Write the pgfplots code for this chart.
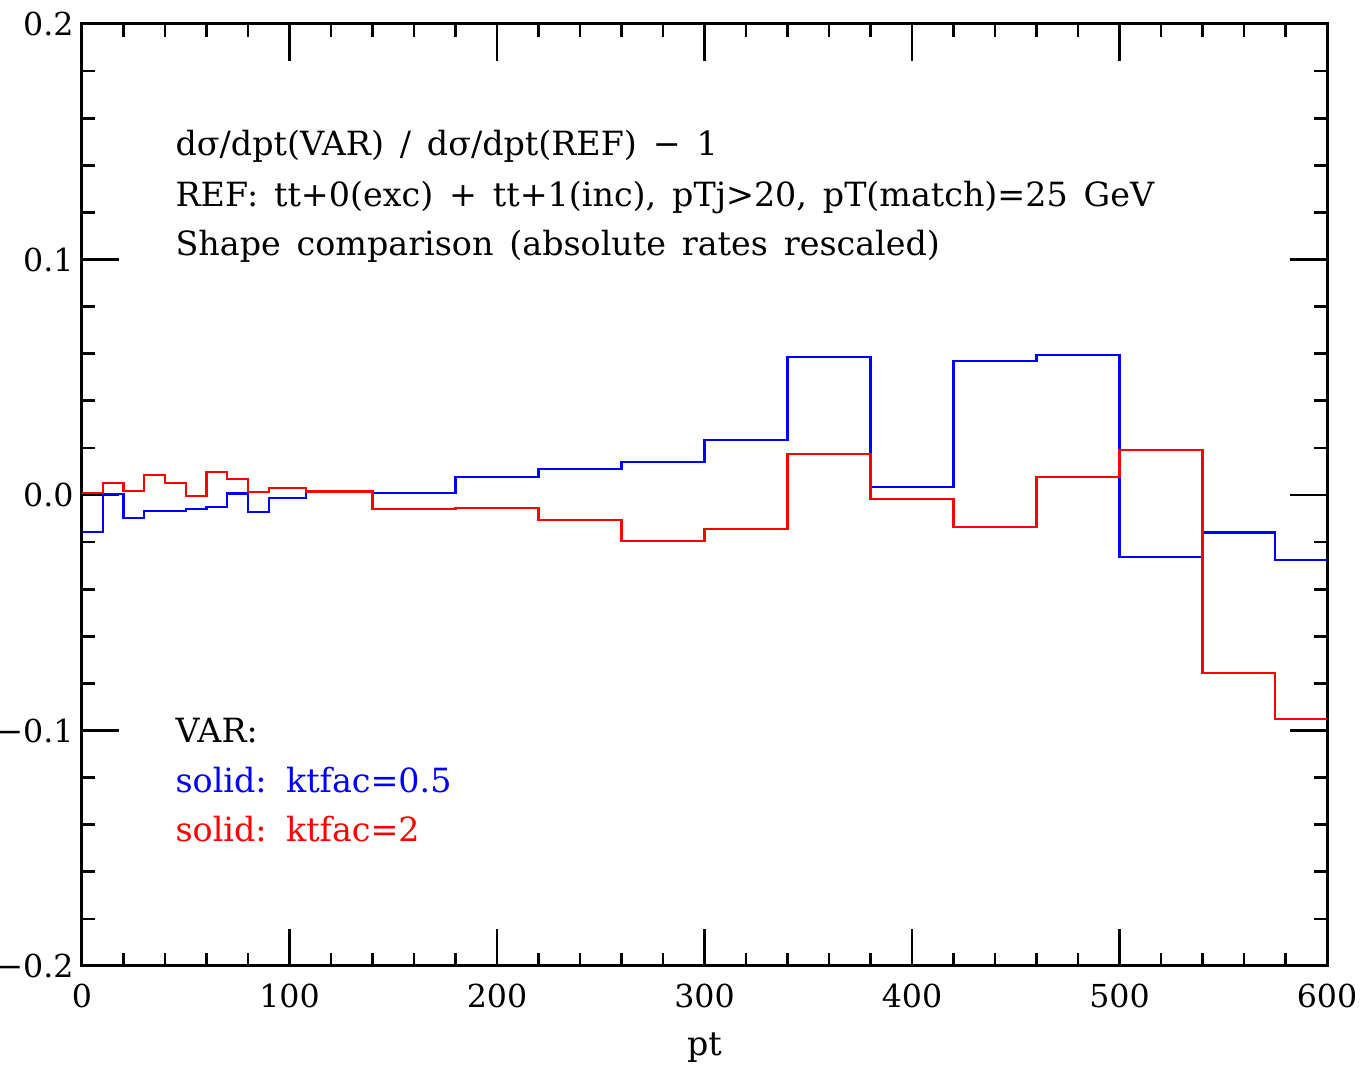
\documentclass[border=0pt]{standalone}
\usepackage{fontspec}
\setmainfont{DejaVu Serif}[WordSpace=1.5]
\usepackage{pgfplots}
\pgfplotsset{compat=1.18}
\begin{document}
\begin{tikzpicture}
\begin{axis}[
  name=ax,
  scale only axis,
  width=373.5pt, height=282.6pt,
  xmin=0, xmax=600, ymin=-0.2, ymax=0.2,
  axis line style={line width=0.9pt},
  tick style={line width=0.8pt, black},
  tick align=inside,
  major tick length=11pt,
  minor tick length=3.8pt,
  xtick={0,100,200,300,400,500,600},
  xticklabels={0,100,200,300,400,500,600},
  ytick={-0.2,-0.1,0,0.1,0.2},
  yticklabels={−0.2,−0.1,0.0,0.1,0.2},
  minor x tick num=4,
  minor y tick num=4,
  ticklabel style={font=\fontsize{9.5}{11}\selectfont},
  xticklabel style={yshift=-2pt},
  yticklabel style={xshift=1pt},
  xlabel={pt},
  xlabel style={font=\fontsize{10}{12}\selectfont, yshift=-0.5pt},
  clip=false,
]
\addplot[const plot, blue, line width=0.65pt] coordinates {
(0,-0.0156) (10,0.0003) (20,-0.0096) (30,-0.0067) (40,-0.0067) (50,-0.0059)
(60,-0.0050) (70,0.0006) (80,-0.0074) (90,-0.0014) (108,0.0016) (140,0.0007)
(180,0.0076) (220,0.0109) (260,0.0139) (300,0.0235) (340,0.0585) (380,0.0034)
(420,0.0570) (460,0.0593) (500,-0.0263) (540,-0.0159) (575,-0.0276) (600,-0.0276)
};
\addplot[const plot, red, line width=0.65pt] coordinates {
(0,0.0007) (10,0.0051) (20,0.0018) (30,0.0086) (40,0.0052) (50,-0.0003)
(60,0.0096) (70,0.0069) (80,0.0013) (90,0.0028) (108,0.0015) (140,-0.0059)
(180,-0.0057) (220,-0.0106) (260,-0.0194) (300,-0.0144) (340,0.0173) (380,-0.0016)
(420,-0.0136) (460,0.0078) (500,0.0190) (540,-0.0756) (575,-0.0951) (600,-0.0951)
};
\node[anchor=base west, font=\fontsize{10}{12}\selectfont, inner sep=0pt] at (axis cs:44.8,0.1440) {dσ/dpt(VAR) / dσ/dpt(REF) − 1};
\node[anchor=base west, font=\fontsize{10}{12}\selectfont, inner sep=0pt] at (axis cs:44.8,0.1227) {REF: tt+0(exc) + tt+1(inc), pTj>20, pT(match)=25 GeV};
\node[anchor=base west, font=\fontsize{10}{12}\selectfont, inner sep=0pt] at (axis cs:44.8,0.1015) {Shape comparison (absolute rates rescaled)};
\node[anchor=base west, font=\fontsize{10}{12}\selectfont, inner sep=0pt] at (axis cs:44.8,-0.1053) {VAR:};
\node[anchor=base west, font=\fontsize{10}{12}\selectfont, inner sep=0pt, text=blue] at (axis cs:44.8,-0.1264) {solid:  ktfac=0.5};
\node[anchor=base west, font=\fontsize{10}{12}\selectfont, inner sep=0pt, text=red] at (axis cs:44.8,-0.1472) {solid:  ktfac=2};
\end{axis}
\pgfresetboundingbox
\path[use as bounding box] ([shift={(-24.6pt,-30.3pt)}]ax.south west) rectangle ([shift={(11.1pt,7.2pt)}]ax.north east);
\end{tikzpicture}
\end{document}
